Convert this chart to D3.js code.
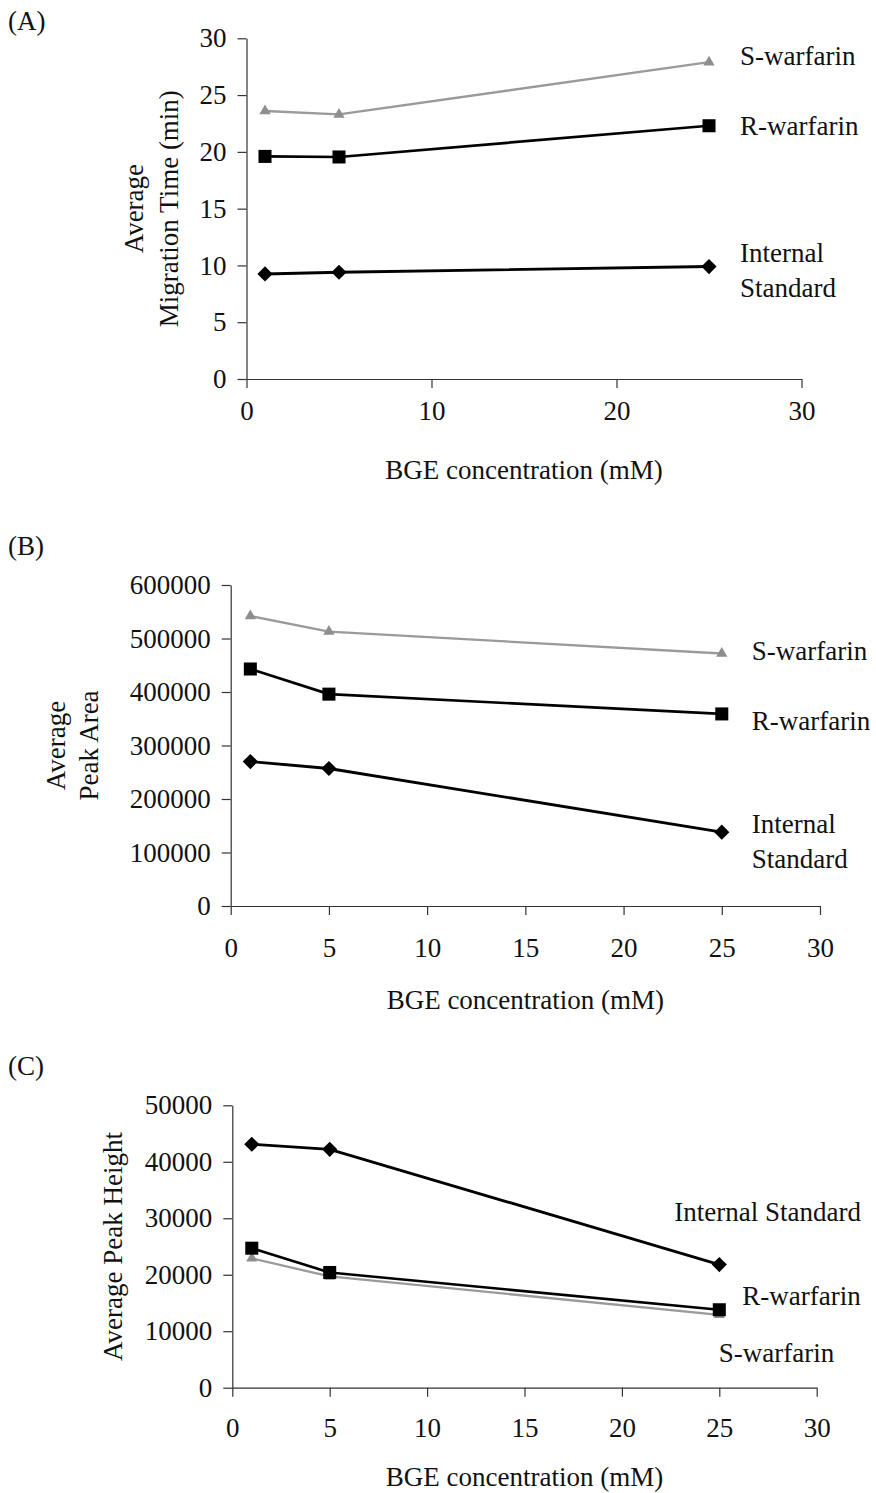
<!DOCTYPE html>
<html>
<head>
<meta charset="utf-8">
<script src="https://cdn.jsdelivr.net/npm/d3@7"></script>
<style>
  body { margin: 0; background: #fff; }
  svg { display: block; }
  text { font-family: "Liberation Serif", "Times New Roman", serif; fill: #111; }
  .axis path, .axis line { stroke: #333; stroke-width: 1.2; }
  .axis text { font-size: 27px; fill: #111; }
</style>
</head>
<body>
<svg width="876" height="1493"></svg>
<script>
// BGE concentration (mM)
let conc = [1, 5, 25];

// (A) average migration time (min)
let timeS = [23.6, 23.3, 27.9];
let timeR = [19.6, 19.55, 22.3];
let timeIS = [9.25, 9.4, 9.9];

// (B) average peak area
let areaS = [542000, 513000, 472000];
let areaR = [443000, 396000, 359000];
let areaIS = [270000, 257000, 138000];

// (C) average peak height
let heightS = [22900, 19700, 12900];
let heightR = [24700, 20400, 13800];
let heightIS = [43100, 42200, 21800];

let xTicksA = [0, 10, 20, 30];
let xTicksBC = [0, 5, 10, 15, 20, 25, 30];
let yTicksA = [0, 5, 10, 15, 20, 25, 30];
let yTicksB = [0, 100000, 200000, 300000, 400000, 500000, 600000];
let yTicksC = [0, 10000, 20000, 30000, 40000, 50000];

let svg = d3.select("svg");

// marker shapes
let tri = d3.symbol().type(d3.symbolTriangle).size(55)();
let sq = d3.symbol().type(d3.symbolSquare).size(170)();
let dia = d3.symbol().type(d3.symbolSquare).size(115)();

let style = {
    S: {stroke: "#9a9a9a", width: 2.3, marker: tri, fill: "#8e8e8e", rot: 0},
    R: {stroke: "#000", width: 2.7, marker: sq, fill: "#000", rot: 0},
    IS: {stroke: "#000", width: 2.9, marker: dia, fill: "#000", rot: 45}
};

function panel(p) {
    let x = d3.scaleLinear().domain([0, 30]).range([p.left, p.right]);
    let y = d3.scaleLinear().domain([0, p.yMax]).range([p.bottom, p.top]);

    svg.append("g")
        .attr("class", "axis")
        .attr("transform", "translate(0," + p.bottom + ")")
        .call(d3.axisBottom(x).tickValues(p.xTicks).tickSize(9).tickSizeOuter(0).tickPadding(p.xPad));

    svg.append("g")
        .attr("class", "axis")
        .attr("transform", "translate(" + p.left + ",0)")
        .call(d3.axisLeft(y).tickValues(p.yTicks).tickSize(9).tickSizeOuter(0).tickPadding(11)
            .tickFormat(d3.format("d")));

    let line = d3.line()
        .x(function(d, i) { return x(conc[i]); })
        .y(function(d) { return y(d); });

    // gray S goes first so the black lines sit on top
    p.series.forEach(function(s) {
        let st = style[s.key];
        svg.append("path")
            .datum(s.values)
            .attr("fill", "none")
            .attr("stroke", st.stroke)
            .attr("stroke-width", st.width)
            .attr("stroke-linejoin", "round")
            .attr("d", line);

        svg.selectAll(null)
            .data(s.values)
            .enter()
            .append("path")
            .attr("d", st.marker)
            .attr("fill", st.fill)
            .attr("transform", function(d, i) {
                return "translate(" + x(conc[i]) + "," + y(d) + ") rotate(" + st.rot + ")";
            });

        // label next to the last point
        let lx = x(conc[2]) + s.dx, ly = y(s.values[2]) + s.dy;
        s.label.forEach(function(t, k) {
            svg.append("text")
                .attr("x", lx)
                .attr("y", ly + k * 35)
                .style("font-size", "27px")
                .text(t);
        });
    });

    // x title
    svg.append("text")
        .attr("x", (p.left + p.right) / 2)
        .attr("y", p.titleY)
        .style("text-anchor", "middle")
        .style("font-size", "27px")
        .text("BGE concentration (mM)");

    // y title (one or two lines)
    let cy = (p.top + p.bottom) / 2;
    p.yTitle.forEach(function(t, k) {
        svg.append("text")
            .attr("transform", "translate(" + p.yTitleX[k] + "," + cy + ") rotate(-90)")
            .style("text-anchor", "middle")
            .style("font-size", "27px")
            .text(t);
    });

    svg.append("text")
        .attr("x", 8)
        .attr("y", p.tagY)
        .style("font-size", "27px")
        .text(p.tag);
}

panel({
    tag: "(A)", tagY: 30,
    left: 246.5, right: 801.5, top: 38.3, bottom: 379,
    yMax: 30, xTicks: xTicksA, yTicks: yTicksA, xPad: 13, titleY: 479,
    yTitle: ["Average", "Migration Time (min)"], yTitleX: [143, 178],
    series: [
        {key: "S", values: timeS, label: ["S-warfarin"], dx: 31, dy: 3},
        {key: "R", values: timeR, label: ["R-warfarin"], dx: 31, dy: 9},
        {key: "IS", values: timeIS, label: ["Internal", "Standard"], dx: 31, dy: -5}
    ]
});

panel({
    tag: "(B)", tagY: 555,
    left: 230.7, right: 820, top: 585, bottom: 906,
    yMax: 600000, xTicks: xTicksBC, yTicks: yTicksB, xPad: 23, titleY: 1009,
    yTitle: ["Average", "Peak Area"], yTitleX: [65, 98],
    series: [
        {key: "S", values: areaS, label: ["S-warfarin"], dx: 30, dy: 7},
        {key: "R", values: areaR, label: ["R-warfarin"], dx: 30, dy: 16},
        {key: "IS", values: areaIS, label: ["Internal", "Standard"], dx: 30, dy: 1}
    ]
});

panel({
    tag: "(C)", tagY: 1075,
    left: 232.3, right: 816.7, top: 1105.3, bottom: 1387.7,
    yMax: 50000, xTicks: xTicksBC, yTicks: yTicksC, xPad: 21, titleY: 1486,
    yTitle: ["Average Peak Height"], yTitleX: [122],
    series: [
        {key: "S", values: heightS, label: ["S-warfarin"], dx: -0.5, dy: 47},
        {key: "R", values: heightR, label: ["R-warfarin"], dx: 23, dy: -5},
        {key: "IS", values: heightIS, label: ["Internal Standard"], dx: -45, dy: -44}
    ]
});
</script>
</body>
</html>
